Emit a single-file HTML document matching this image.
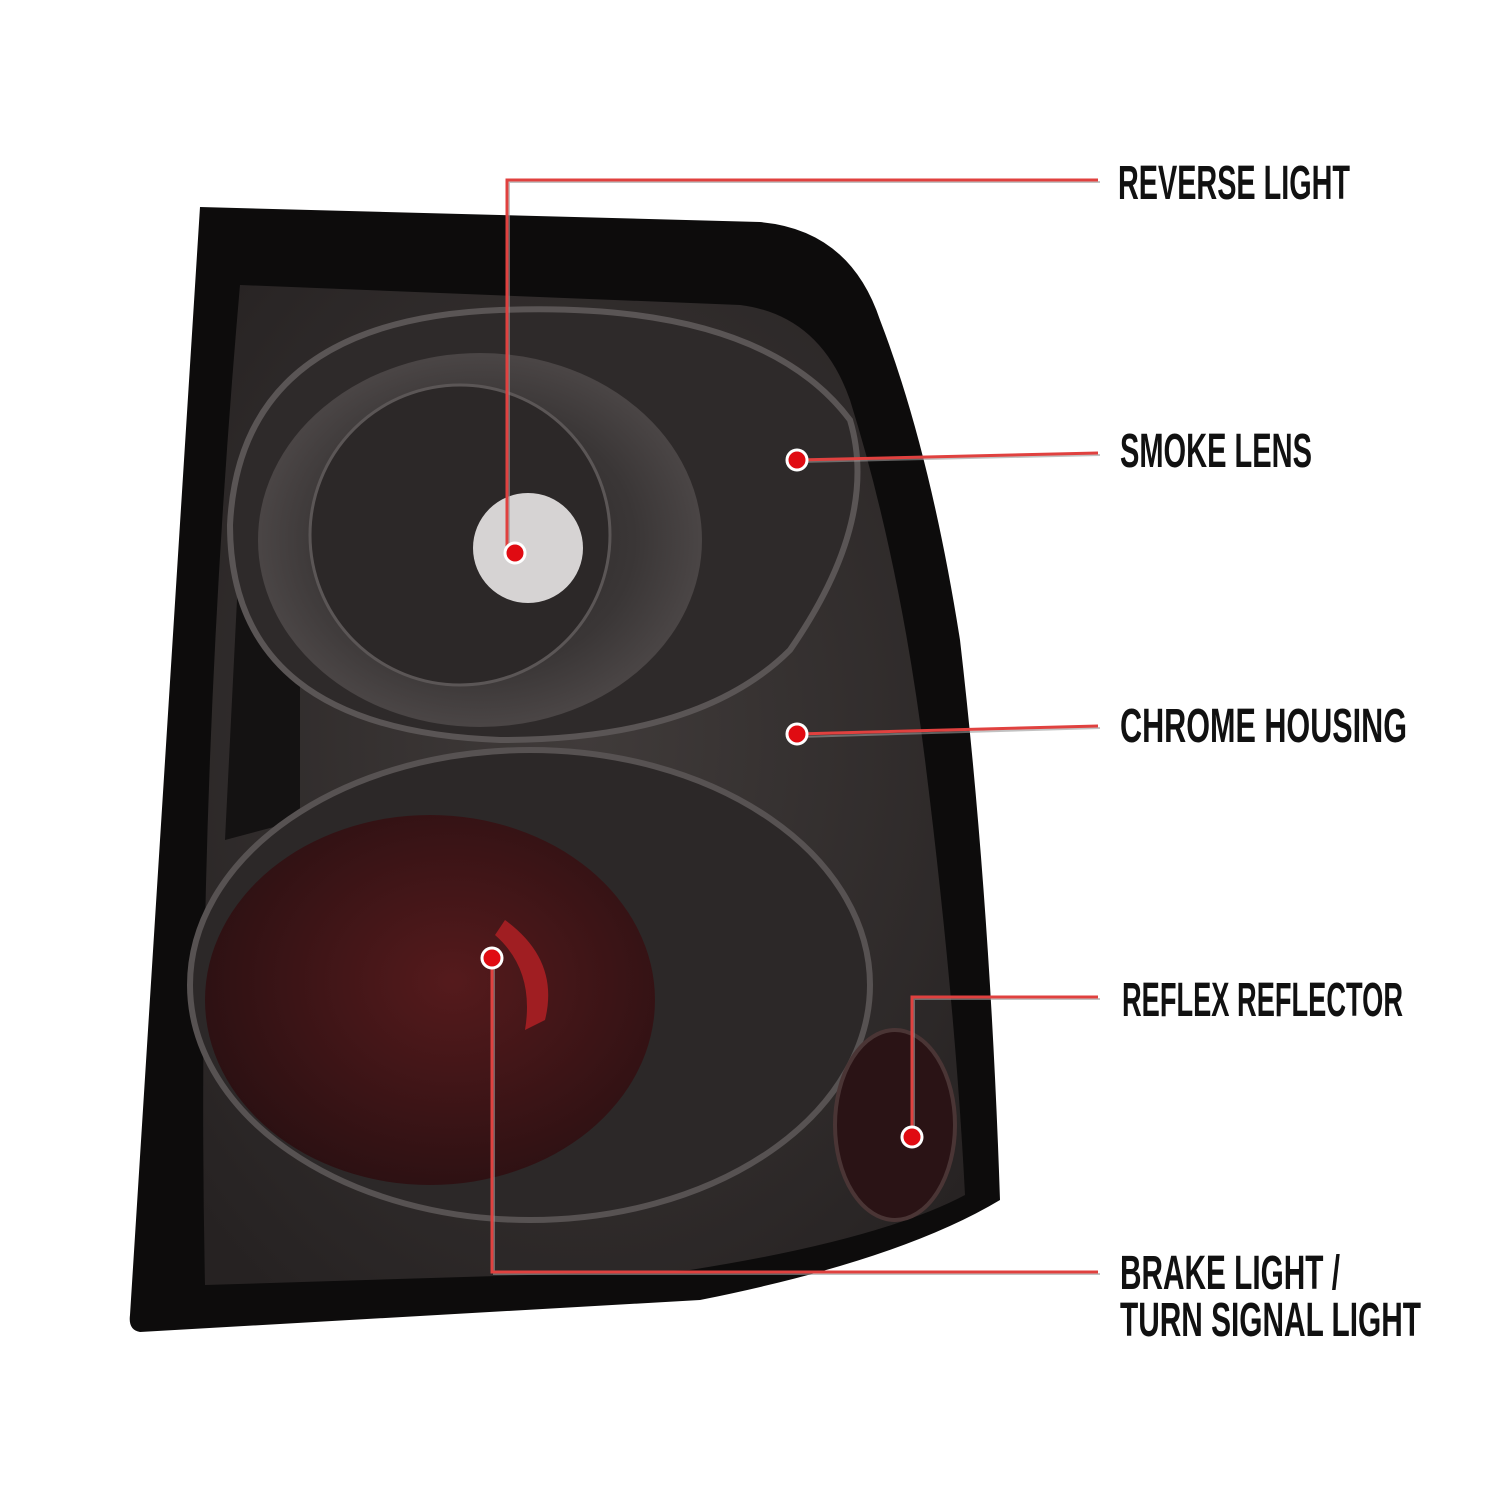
<!DOCTYPE html>
<html><head><meta charset="utf-8"><style>html,body{margin:0;padding:0;background:#fff}svg{display:block}</style></head>
<body>
<svg width="1500" height="1500" viewBox="0 0 1500 1500" xmlns="http://www.w3.org/2000/svg">
<defs>
<radialGradient id="lens" cx="0.5" cy="0.45" r="0.7"><stop offset="0" stop-color="#403b3a"/><stop offset="1" stop-color="#262222"/></radialGradient>
<radialGradient id="up" cx="0.5" cy="0.5" r="0.5"><stop offset="0" stop-color="#2a2727"/><stop offset="0.7" stop-color="#3a3636"/><stop offset="1" stop-color="#4a4545"/></radialGradient>
<radialGradient id="red" cx="0.55" cy="0.45" r="0.6"><stop offset="0" stop-color="#551a1c"/><stop offset="1" stop-color="#2a1012"/></radialGradient>
</defs>
<rect width="1500" height="1500" fill="#fff"/>
<path d="M200,207 L760,222 Q850,230 880,320 Q930,450 960,640 Q990,900 1000,1200 Q900,1260 700,1300 L140,1332 Q128,1330 130,1315 Z" fill="#0d0c0c"/>
<path d="M240,285 L740,305 Q820,315 850,400 Q900,560 925,760 Q955,1000 965,1195 Q880,1240 690,1270 L205,1285 Q195,800 240,285 Z" fill="url(#lens)"/>
<path d="M238,580 L300,600 L300,820 L225,840 Z" fill="#141212"/>
<path d="M500,310 Q760,300 850,420 Q880,520 790,650 Q700,740 500,740 Q230,730 230,525 Q240,320 500,310 Z" fill="#2e2a2a" stroke="#5a5555" stroke-width="6"/>
<ellipse cx="480" cy="540" rx="220" ry="185" fill="url(#up)" stroke="#4a4545" stroke-width="4"/>
<circle cx="460" cy="535" r="150" fill="#2c2828" stroke="#5b5656" stroke-width="3"/>
<circle cx="528" cy="548" r="55" fill="#d6d3d3"/>
<ellipse cx="530" cy="985" rx="340" ry="235" fill="#2c2828" stroke="#575252" stroke-width="6"/>
<ellipse cx="430" cy="1000" rx="225" ry="185" fill="url(#red)"/>
<path d="M505,920 Q560,960 545,1020 L525,1030 Q535,970 495,935 Z" fill="#a01e22"/>
<ellipse cx="895" cy="1125" rx="60" ry="95" fill="#2a1315" stroke="#4a3535" stroke-width="4"/>
<g fill="none" stroke="#9a9a9a" stroke-width="2" opacity="0.6">
<polyline points="509,556 509,182 1100,182"/>
<polyline points="799,462 1100,455"/>
<polyline points="799,737 1100,728"/>
<polyline points="914,1139 914,999 1100,999"/>
<polyline points="494,960 494,1274 1100,1274"/>
</g>
<g fill="none" stroke="#e0413f" stroke-width="3">
<polyline points="507,553 507,180 1098,180"/>
<polyline points="797,460 1098,453"/>
<polyline points="797,734 1098,726"/>
<polyline points="912,1137 912,997 1098,997"/>
<polyline points="492,958 492,1272 1098,1272"/>
</g>
<g fill="#e00b12" stroke="#fff" stroke-width="3">
<circle cx="515" cy="553" r="10"/>
<circle cx="797" cy="460" r="10"/>
<circle cx="797" cy="734" r="10"/>
<circle cx="912" cy="1137" r="10"/>
<circle cx="492" cy="958" r="10"/>
</g>
<g font-family="'Liberation Sans Narrow','Liberation Sans',sans-serif" font-weight="bold" font-size="48" fill="#111">
<text x="1118" y="199" textLength="232" lengthAdjust="spacingAndGlyphs">REVERSE LIGHT</text>
<text x="1120" y="467" textLength="192" lengthAdjust="spacingAndGlyphs">SMOKE LENS</text>
<text x="1120" y="742" textLength="287" lengthAdjust="spacingAndGlyphs">CHROME HOUSING</text>
<text x="1122" y="1016" textLength="281" lengthAdjust="spacingAndGlyphs">REFLEX REFLECTOR</text>
<text x="1120" y="1289" textLength="220" lengthAdjust="spacingAndGlyphs">BRAKE LIGHT /</text>
<text x="1120" y="1336" textLength="301" lengthAdjust="spacingAndGlyphs">TURN SIGNAL LIGHT</text>
</g>
</svg>
</body></html>
